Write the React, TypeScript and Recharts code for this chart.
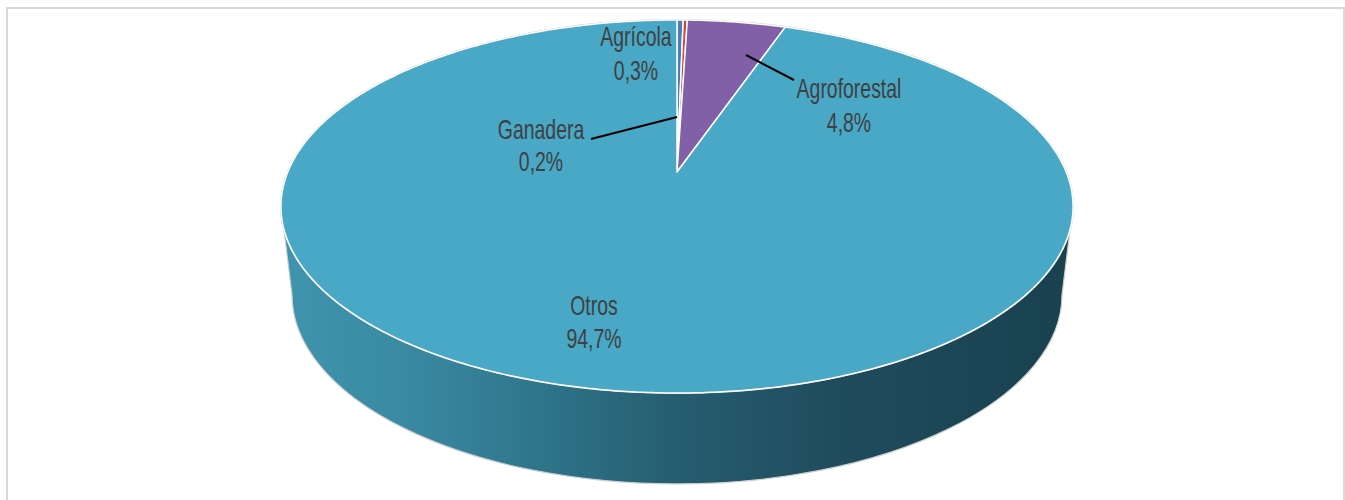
import React from "react";
import { PieChart, Pie, Cell } from "recharts";

const categories = ["Agrícola", "Ganadera", "Agroforestal", "Otros"];
const shares = [0.3, 0.2, 4.8, 94.7];
const colors = ["#4A7EC2", "#D1483C", "#8160A8", "#48A8C6"];

const tableData = categories.map((name, i) => ({ name, value: shares[i] }));

const W = 1345;
const H = 500;
const APEX_X = 677;
const APEX_Y = 172;
// projective map of the pie's circular plane on to the tilted ellipse
const C = 0.185;
const A = -148.3;
const K = 389.2;

function project(deg: number): [number, number] {
  const t = ((90 - deg) * Math.PI) / 180;
  const u = Math.sin(t);
  const v = Math.cos(t);
  const d = C * v + 1;
  return [APEX_X + (K * u) / d, (A * v + APEX_Y) / d];
}

function sectorPath(start: number, end: number) {
  const n = Math.max(2, Math.ceil(Math.abs(end - start) / 0.5));
  let p = `M${APEX_X},${APEX_Y}`;
  for (let i = 0; i <= n; i++) {
    const [x, y] = project(start + ((end - start) * i) / n);
    p += `L${x.toFixed(2)},${y.toFixed(2)}`;
  }
  return p + "Z";
}

const wallPath =
  "M281,206 L292,295 A385,189 0 0 0 1062,295 L1073,206 Z";

function SliceShape(props: any) {
  const { startAngle, endAngle, fill, name } = props;
  return (
    <g>
      {name === categories[0] && (
        <g>
          <defs>
            <linearGradient id="wallGrad" gradientUnits="userSpaceOnUse" x1="285" y1="0" x2="1070" y2="0">
              <stop offset="0" stopColor="#3F94AE" />
              <stop offset="0.15" stopColor="#3A8AA3" />
              <stop offset="0.3" stopColor="#30788E" />
              <stop offset="0.5" stopColor="#265D70" />
              <stop offset="0.7" stopColor="#1F4C5D" />
              <stop offset="1" stopColor="#194150" />
            </linearGradient>
          </defs>
          <path d={wallPath} fill="url(#wallGrad)" stroke="#CFCFCF" strokeWidth={1.2} />
          <ellipse cx={677} cy={206.5} rx={397} ry={187.5} fill="#C4C4C4" />
        </g>
      )}
      <path d={sectorPath(startAngle, endAngle)} fill={fill} stroke="#FFFFFF" strokeWidth={1.5} strokeLinejoin="round" />
    </g>
  );
}

const labelSpots: Record<string, [number, number, number]> = {
  "Agrícola": [636, 46, 80],
  "Ganadera": [541, 139, 171],
  "Agroforestal": [849, 98, 132],
  "Otros": [594, 315, 348],
};

const leaderLines = [
  [591, 139, 677, 117],
  [746, 55, 794, 80],
];

const textStyle = { fontFamily: "'Liberation Sans', sans-serif", fontSize: 27, fill: "#404040" };
const NARROW = 0.72;

export default function App() {
  return (
    <div style={{ position: "absolute", left: 0, top: 0, width: W, height: H, overflow: "hidden", background: "#fff" }}>
      <div style={{ position: "absolute", left: 6, top: 7, width: 1339, height: H + 50, border: "2px solid #D9D9D9", boxSizing: "border-box" }} />
      <div style={{ position: "absolute", left: 0, top: 0 }}>
        <PieChart width={W} height={H}>
          <Pie
            data={tableData}
            dataKey="value"
            nameKey="name"
            cx={APEX_X}
            cy={APEX_Y}
            outerRadius={150}
            startAngle={90}
            endAngle={-270}
            isAnimationActive={false}
            stroke="none"
            shape={SliceShape}
            rootTabIndex={-1}
            labelLine={false}
            label={false}
          >
            {tableData.map((d, i) => (
              <Cell key={d.name} fill={colors[i]} />
            ))}
          </Pie>
        </PieChart>
      </div>
      <svg width={W} height={H} style={{ position: "absolute", left: 0, top: 0, pointerEvents: "none" }}>
        {leaderLines.map((l, i) => (
          <line key={i} x1={l[0]} y1={l[1]} x2={l[2]} y2={l[3]} stroke="#000" strokeWidth={2} />
        ))}
        {tableData.map((d) => {
          const s = labelSpots[d.name];
          return (
            <g key={d.name} style={textStyle as any} textAnchor="middle">
              <text transform={`translate(${s[0]},${s[1]}) scale(${NARROW},1)`}>{d.name}</text>
              <text transform={`translate(${s[0]},${s[2]}) scale(${NARROW},1)`}>{String(d.value).replace(".", ",")}%</text>
            </g>
          );
        })}
      </svg>
    </div>
  );
}
